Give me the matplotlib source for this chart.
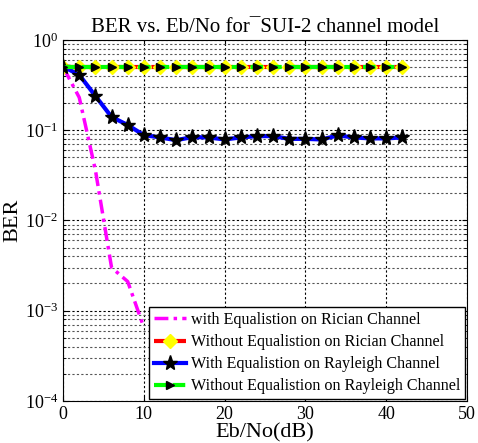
import numpy as np
import matplotlib
matplotlib.use("Agg")
import matplotlib.pyplot as plt
from matplotlib.ticker import LogLocator, NullFormatter

plt.rcParams['font.family'] = ['Liberation Serif', 'DejaVu Serif']
plt.rcParams['mathtext.fontset'] = 'custom'
plt.rcParams['mathtext.rm'] = 'Liberation Serif'

# Eb/No axis (dB)
snr = np.arange(0, 43, 2)
snr_rician_eq = [0, 2, 4, 6, 8, 10]

ber_rician_eq = [0.5, 0.23, 0.036, 0.003, 0.0021, 0.00065]
ber_rician_noeq = [0.5] * len(snr)
ber_rayleigh_eq = [0.505, 0.41, 0.239, 0.14, 0.114, 0.088, 0.083, 0.0774, 0.0837, 0.083,
                   0.0788, 0.083, 0.0858, 0.0858, 0.08, 0.08, 0.0788, 0.0873, 0.083,
                   0.081, 0.081, 0.083]
ber_rayleigh_noeq = [0.5] * len(snr)

labels = ["with Equalistion on Rician Channel",
          "Without Equalistion on Rician Channel",
          "With Equalistion on Rayleigh Channel",
          "Without Equalistion on Rayleigh Channel"]

fig = plt.figure(figsize=(4.78, 4.43), dpi=100)
ax = fig.add_axes([0.132, 0.095, 0.845, 0.815])

ax.semilogy(snr_rician_eq, ber_rician_eq, color='#ff00ff', lw=2.5,
            ls=(0, (4, 1.5, 1, 1.5)), label=labels[0])
ax.semilogy(snr, ber_rician_noeq, '--', color='red', lw=3, marker='D', ms=7,
            mfc='yellow', mec='yellow', label=labels[1])
ax.semilogy(snr, ber_rayleigh_eq, '-', color='blue', lw=3, marker='*', ms=11,
            mfc='black', mec='black', label=labels[2])
ax.semilogy(snr, ber_rayleigh_noeq, color='#00ff00', lw=3, ls=(0, (3, 1.5)),
            marker='>', ms=6, mfc='black', mec='black', label=labels[3])

ax.set_xlim(0, 50)
ax.set_ylim(1e-4, 1)
ax.set_xticks([0, 10, 20, 30, 40, 50])
ax.yaxis.set_major_locator(LogLocator(base=10, numticks=10))
ax.yaxis.set_minor_locator(LogLocator(base=10, subs=np.arange(2, 10), numticks=10))
ax.yaxis.set_minor_formatter(NullFormatter())
ax.grid(True, which='major', ls=(0, (2, 2)), color='black', lw=0.8)
ax.grid(True, which='minor', axis='y', ls=(0, (2, 2)), color='#555555', lw=0.8)
ax.tick_params(which='both', direction='in', top=True, right=True, labelsize=13)

ax.set_title("BER vs. Eb/No for\u00afSUI-2 channel model", fontsize=15)
ax.set_xlabel("Eb/No(dB)", fontsize=16, labelpad=0)
ax.set_ylabel("BER", fontsize=16, labelpad=2)

leg = ax.legend(loc='lower right', fontsize=11.6, fancybox=False, edgecolor='black',
                handlelength=2.0, handletextpad=0.3, borderpad=0.3, labelspacing=0.38,
                borderaxespad=0.1, framealpha=1)
leg.get_frame().set_linewidth(1)

fig.savefig("out.png", dpi=100)
